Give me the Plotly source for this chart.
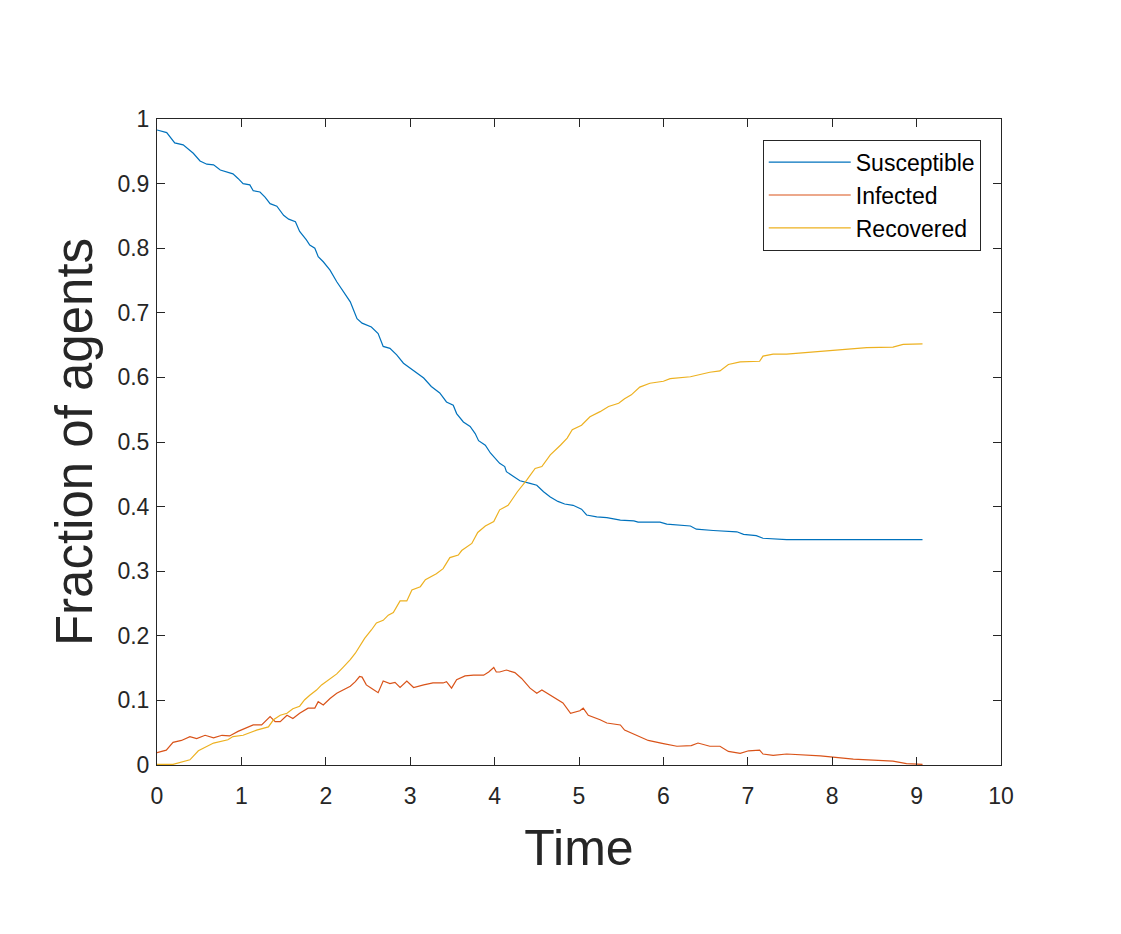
import plotly.graph_objects as go

t_sus = [0, 0.115, 0.21, 0.31, 0.43, 0.51, 0.59, 0.67, 0.75, 0.90, 0.96, 1.02, 1.10, 1.14, 1.22,
         1.28, 1.34, 1.42, 1.50, 1.56, 1.64, 1.69, 1.77, 1.81, 1.87, 1.91, 1.97, 2.05, 2.13, 2.21,
         2.29, 2.33, 2.37, 2.43, 2.54, 2.62, 2.68, 2.76, 2.84, 2.92, 3.00, 3.08, 3.16, 3.25, 3.35,
         3.43, 3.51, 3.55, 3.63, 3.71, 3.77, 3.81, 3.89, 3.95, 4.02, 4.06, 4.12, 4.14, 4.22, 4.30,
         4.42, 4.50, 4.58, 4.66, 4.75, 4.83, 4.93, 5.03, 5.09, 5.21, 5.33, 5.49, 5.65, 5.70, 5.96,
         6.04, 6.32, 6.39, 6.59, 6.87, 6.95, 7.10, 7.18, 7.46, 9.07]
susceptible = [0.983, 0.979, 0.963, 0.960, 0.947, 0.935, 0.930, 0.929, 0.921, 0.915, 0.908, 0.900,
               0.898, 0.889, 0.887, 0.879, 0.869, 0.865, 0.851, 0.845, 0.841, 0.826, 0.813, 0.805,
               0.800, 0.787, 0.779, 0.766, 0.748, 0.733, 0.717, 0.704, 0.691, 0.684, 0.678, 0.668,
               0.648, 0.645, 0.635, 0.622, 0.614, 0.606, 0.599, 0.586, 0.576, 0.562, 0.557, 0.544,
               0.531, 0.524, 0.513, 0.502, 0.495, 0.483, 0.473, 0.467, 0.462, 0.454, 0.447, 0.440,
               0.436, 0.433, 0.423, 0.415, 0.408, 0.404, 0.402, 0.396, 0.387, 0.384, 0.383, 0.379,
               0.378, 0.376, 0.376, 0.373, 0.370, 0.365, 0.363, 0.361, 0.357, 0.355, 0.351, 0.349,
               0.349]

t_inf = [0, 0.11, 0.19, 0.29, 0.39, 0.47, 0.57, 0.67, 0.77, 0.86, 0.96, 1.04, 1.14, 1.24, 1.34,
         1.40, 1.46, 1.54, 1.61, 1.69, 1.79, 1.87, 1.91, 1.97, 2.05, 2.13, 2.21, 2.29, 2.35, 2.40,
         2.43, 2.48, 2.54, 2.62, 2.68, 2.76, 2.82, 2.88, 2.96, 3.04, 3.16, 3.27, 3.39, 3.43, 3.49,
         3.55, 3.65, 3.75, 3.87, 3.93, 3.99, 4.02, 4.06, 4.14, 4.24, 4.32, 4.42, 4.50, 4.56, 4.66,
         4.81, 4.90, 5.01, 5.05, 5.11, 5.25, 5.33, 5.49, 5.54, 5.68, 5.82, 6.00, 6.16, 6.33, 6.41,
         6.55, 6.67, 6.77, 6.91, 7.01, 7.14, 7.18, 7.30, 7.46, 7.86, 8.25, 8.72, 8.88, 9.07]
infected = [0.019, 0.023, 0.035, 0.038, 0.044, 0.041, 0.046, 0.042, 0.046, 0.045, 0.052, 0.057,
            0.062, 0.062, 0.075, 0.067, 0.067, 0.077, 0.072, 0.080, 0.088, 0.088, 0.098, 0.093,
            0.103, 0.111, 0.117, 0.122, 0.129, 0.137, 0.136, 0.124, 0.119, 0.112, 0.130, 0.126,
            0.128, 0.120, 0.130, 0.120, 0.124, 0.127, 0.127, 0.129, 0.119, 0.132, 0.138, 0.139,
            0.139, 0.144, 0.151, 0.144, 0.144, 0.147, 0.143, 0.134, 0.119, 0.111, 0.116, 0.108,
            0.096, 0.080, 0.084, 0.088, 0.077, 0.070, 0.065, 0.062, 0.054, 0.046, 0.038, 0.033,
            0.029, 0.030, 0.034, 0.029, 0.029, 0.021, 0.018, 0.022, 0.023, 0.017, 0.015, 0.017,
            0.014, 0.009, 0.006, 0.002, 0.001]

t_rec = [0, 0.19, 0.39, 0.49, 0.67, 0.84, 0.90, 1.02, 1.18, 1.32, 1.38, 1.46, 1.54, 1.61, 1.69,
         1.75, 1.81, 1.89, 1.95, 2.03, 2.13, 2.21, 2.29, 2.35, 2.40, 2.46, 2.54, 2.60, 2.68, 2.74,
         2.80, 2.88, 2.96, 3.02, 3.12, 3.18, 3.31, 3.39, 3.47, 3.57, 3.61, 3.73, 3.80, 3.89, 3.99,
         4.06, 4.16, 4.27, 4.38, 4.48, 4.56, 4.66, 4.78, 4.86, 4.92, 5.03, 5.13, 5.25, 5.35, 5.47,
         5.54, 5.62, 5.72, 5.84, 6.00, 6.08, 6.32, 6.55, 6.67, 6.77, 6.91, 7.14, 7.18, 7.30, 7.46,
         7.86, 8.01, 8.41, 8.72, 8.84, 9.07]
recovered = [0.001, 0.001, 0.008, 0.022, 0.034, 0.039, 0.044, 0.046, 0.054, 0.059, 0.070, 0.077,
             0.080, 0.087, 0.091, 0.101, 0.108, 0.116, 0.124, 0.132, 0.141, 0.152, 0.163, 0.173,
             0.183, 0.196, 0.209, 0.220, 0.224, 0.232, 0.236, 0.254, 0.254, 0.271, 0.276, 0.287,
             0.296, 0.304, 0.321, 0.325, 0.332, 0.343, 0.360, 0.370, 0.377, 0.395, 0.402, 0.423,
             0.441, 0.459, 0.462, 0.480, 0.495, 0.506, 0.519, 0.526, 0.539, 0.547, 0.555, 0.560,
             0.567, 0.573, 0.585, 0.591, 0.594, 0.598, 0.601, 0.608, 0.610, 0.620, 0.624, 0.625,
             0.633, 0.636, 0.636, 0.640, 0.642, 0.646, 0.647, 0.651, 0.652]

series = [
    ("Susceptible", t_sus, susceptible, "#0072BD"),
    ("Infected", t_inf, infected, "#D95319"),
    ("Recovered", t_rec, recovered, "#EDB120"),
]

fig = go.Figure()
for name, t, y, col in series:
    fig.add_trace(go.Scatter(x=t, y=y, mode="lines", name=name,
                             line=dict(color=col, width=1.2)))

axis_style = dict(showline=True, linecolor="#262626", linewidth=1, mirror="ticks",
                  ticks="inside", ticklen=8, tickcolor="#262626", showgrid=False,
                  zeroline=False, tickfont=dict(size=23, color="#262626"))

fig.update_xaxes(range=[0, 10], dtick=1, title=dict(text="Time", font=dict(size=50, color="#262626"),
                 standoff=22), ticklabelstandoff=10, **axis_style)
fig.update_yaxes(range=[0, 1], dtick=0.1, tickformat="~g",
                 title=dict(text="Fraction of agents", font=dict(size=51, color="#262626"), standoff=8),
                 ticklabelstandoff=2, **axis_style)

# the page adds an 8px body margin, so the margins are pulled in by 8
fig.update_layout(
    width=1121, height=934,
    margin=dict(l=149, r=128, t=111, b=177),
    paper_bgcolor="white", plot_bgcolor="white",
    font=dict(family="Liberation Sans, Arial, sans-serif"),
    legend=dict(x=0.976, y=0.968, xanchor="right", yanchor="top",
                bordercolor="#262626", borderwidth=1, bgcolor="white", itemwidth=82,
                font=dict(size=23, color="#000000"), tracegroupgap=0),
)

fig.write_html("out.html")
